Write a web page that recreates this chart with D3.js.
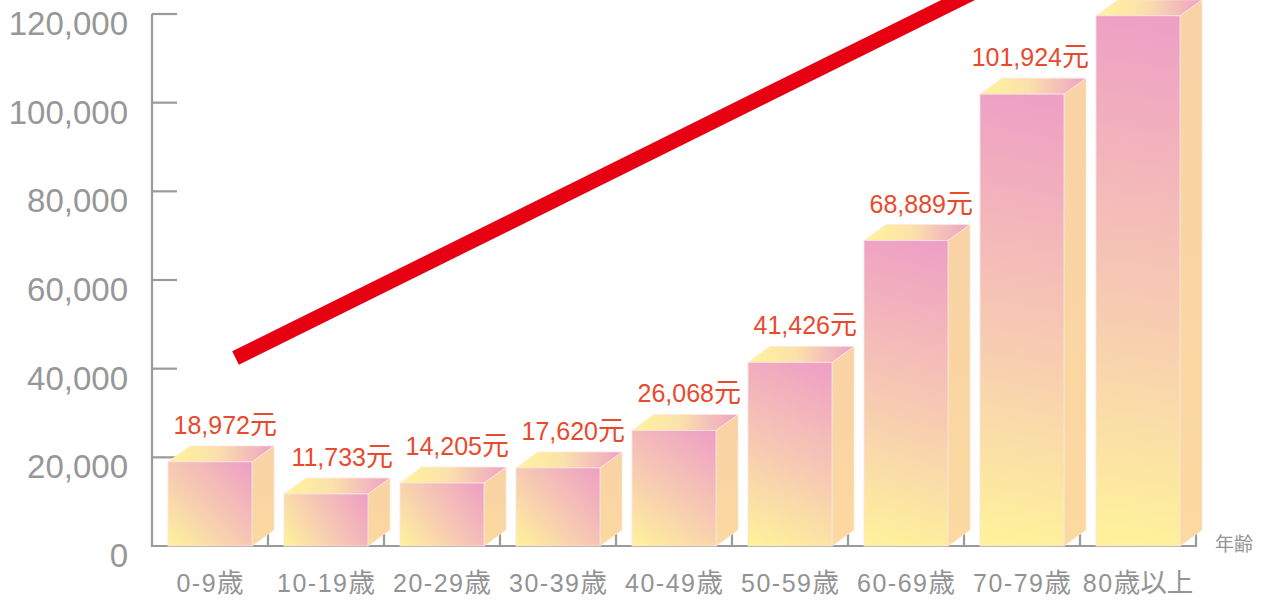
<!DOCTYPE html>
<html>
<head>
<meta charset="utf-8">
<script src="https://cdn.jsdelivr.net/npm/d3@7"></script>
<style>
  html, body { margin: 0; padding: 0; background: #ffffff; }
  svg { display: block; }
</style>
</head>
<body>
<svg id="chart" width="1269" height="601"></svg>
<script>
// ---- data ----
const categories = ["0-9歳", "10-19歳", "20-29歳", "30-39歳", "40-49歳", "50-59歳", "60-69歳", "70-79歳", "80歳以上"];
const values = [18972, 11733, 14205, 17620, 26068, 41426, 68889, 101924, 119600];
const valueLabels = ["18,972元", "11,733元", "14,205元", "17,620元", "26,068元", "41,426元", "68,889元", "101,924元", null];
const yTicks = [0, 20000, 40000, 60000, 80000, 100000, 120000];
const axisTitle = "年齢";
// decorative rising trend line: position in category units, value
const trendPos = [0.72, 7.2];
const trendVal = [42400, 126400];

(function () {
// ---- layout ----
const svg = d3.select("#chart");
const plotLeft = 152, plotRight = 1196, plotBottom = 546, plotTop = 14;
const x = d3.scaleBand().domain(categories).range([plotLeft, plotRight]).paddingInner(0).paddingOuter(0);
const xc = d3.scaleLinear().domain([0, categories.length]).range([plotLeft, plotRight]);
const y = d3.scaleLinear().domain([0, 120000]).range([plotBottom, plotTop]);
const frontW = 84, dx = 22, dy = 16;
const axisColor = "#9a9a9a";
const textGray = "#939393";
const red = "#e84a2e";

// ---- gradients ----
const defs = svg.append("defs");
const gTop = defs.append("linearGradient").attr("id", "gTop")
  .attr("x1", 0).attr("y1", 0).attr("x2", 1).attr("y2", 0);
gTop.append("stop").attr("offset", "0%").attr("stop-color", "#fff59a");
gTop.append("stop").attr("offset", "45%").attr("stop-color", "#fbe1ab");
gTop.append("stop").attr("offset", "100%").attr("stop-color", "#eea2c6");
const gSide = defs.append("linearGradient").attr("id", "gSide")
  .attr("x1", 0).attr("y1", 0).attr("x2", 0).attr("y2", 1);
gSide.append("stop").attr("offset", "0%").attr("stop-color", "#f9d2a6");
gSide.append("stop").attr("offset", "100%").attr("stop-color", "#fbd99f");

// ---- axes ----
const axes = svg.append("g").attr("fill", "none").attr("stroke", axisColor).attr("stroke-width", 2.2);
axes.append("path").attr("d", `M${plotLeft},${y(120000)}V${plotBottom}H${plotRight}V${plotBottom - 12}`);
yTicks.filter(t => t > 0).forEach(t => {
  axes.append("line").attr("x1", plotLeft).attr("x2", plotLeft + 25).attr("y1", y(t)).attr("y2", y(t));
});
categories.slice(1).forEach(c => {
  axes.append("line").attr("x1", x(c)).attr("x2", x(c)).attr("y1", plotBottom).attr("y2", plotBottom - 12);
});

// y tick labels
svg.append("g").selectAll("text").data(yTicks).join("text")
  .attr("x", 128).attr("y", d => y(d) + 21)
  .attr("text-anchor", "end")
  .attr("font-family", "'Liberation Sans', Arial, sans-serif")
  .attr("font-size", 33).attr("fill", "#979797")
  .text(d => d3.format(",")(d));

// helper: mixed Latin/CJK text
function mixed(sel, str, latinSize, cjkSize, spacing) {
  const parts = str.match(/[\u3000-\u9fff\uf900-\ufaff]+|[^\u3000-\u9fff\uf900-\ufaff]+/g) || [];
  parts.forEach(p => {
    const cjk = /[\u3000-\u9fff]/.test(p);
    sel.append("tspan")
      .attr("font-family", cjk ? "'Noto Sans CJK JP', sans-serif" : "'Liberation Sans', Arial, sans-serif")
      .attr("font-size", cjk ? cjkSize : latinSize)
      .attr("letter-spacing", cjk ? 0 : spacing)
      .text(p);
  });
}

// ---- bars ----
const bars = svg.append("g");
categories.forEach((c, i) => {
  const x0 = x(c) + (x.bandwidth() - frontW) / 2;
  const x1 = x0 + frontW;
  const yt = y(values[i]);
  // per-bar front gradient, bottom-left (yellow) to top-right (pink)
  const gf = defs.append("linearGradient").attr("id", "gFront" + i)
    .attr("gradientUnits", "userSpaceOnUse")
    .attr("x1", x0).attr("y1", plotBottom).attr("x2", x1).attr("y2", yt);
  gf.append("stop").attr("offset", "0%").attr("stop-color", "#fef39a");
  gf.append("stop").attr("offset", "45%").attr("stop-color", "#f7cbb2");
  gf.append("stop").attr("offset", "100%").attr("stop-color", "#ee9ec5");

  const g = bars.append("g");
  g.append("path")
    .attr("d", `M${x1},${yt}L${x1 + dx},${yt - dy}L${x1 + dx},${plotBottom - dy}L${x1},${plotBottom}Z`)
    .attr("fill", "url(#gSide)").attr("stroke", "#fde6cf").attr("stroke-width", 0.8);
  g.append("path")
    .attr("d", `M${x0},${yt}L${x0 + dx},${yt - dy}L${x1 + dx},${yt - dy}L${x1},${yt}Z`)
    .attr("fill", "url(#gTop)").attr("stroke", "#fde8e0").attr("stroke-width", 0.8);
  g.append("rect")
    .attr("x", x0).attr("y", yt).attr("width", frontW).attr("height", plotBottom - yt)
    .attr("fill", `url(#gFront${i})`).attr("stroke", "#fbe3e6").attr("stroke-width", 0.8);
  if (valueLabels[i]) {
    const t = svg.append("text")
      .attr("x", x1 + dx + 3).attr("y", yt - 28)
      .attr("text-anchor", "end").attr("fill", red);
    mixed(t, valueLabels[i], 25, 27, 0);
  }
  const tl = svg.append("text")
    .attr("x", x(c) + x.bandwidth() / 2).attr("y", 592)
    .attr("text-anchor", "middle").attr("fill", textGray);
  mixed(tl, c, 25, 26.5, 1.5);
});

// ---- trend line ----
svg.append("line")
  .attr("x1", xc(trendPos[0])).attr("y1", y(trendVal[0]))
  .attr("x2", xc(trendPos[1])).attr("y2", y(trendVal[1]))
  .attr("stroke", "#e60012").attr("stroke-width", 15).attr("stroke-linecap", "butt");

// axis title
svg.append("text").attr("x", 1215).attr("y", 551)
  .attr("font-family", "'Noto Sans CJK JP', sans-serif")
  .attr("font-size", 19).attr("fill", textGray).text(axisTitle);
})();
</script>
</body>
</html>
